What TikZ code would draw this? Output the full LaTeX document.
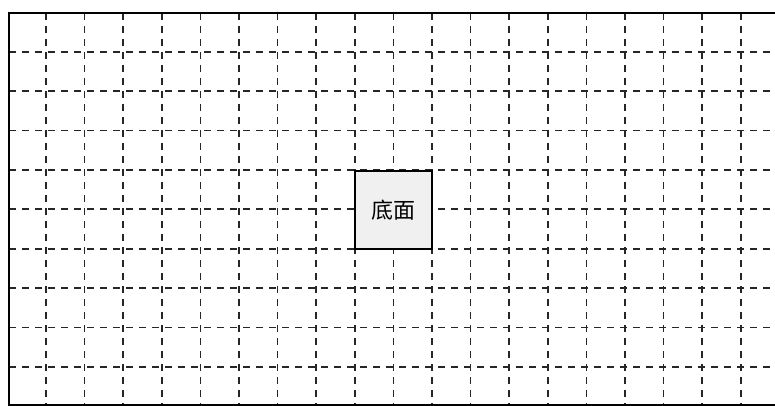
\documentclass[tikz,border=0pt]{standalone}
\usepackage{fontspec}
\newfontfamily\cjk{Noto Sans CJK SC}
\begin{document}
\begin{tikzpicture}[x=1pt,y=-1pt,
  gridline/.style={draw=black!85, line width=1.7pt, dash pattern=on 7pt off 6pt},
  frame/.style={draw=black, line width=2.2pt},
  basebox/.style={draw=black, line width=1.8pt, fill=black!6, minimum width=77pt, minimum height=78pt, inner sep=0pt, font=\cjk\fontsize{22}{22}\selectfont}]
\useasboundingbox (0,0) rectangle (775,406);
\foreach \k in {0,...,18} \draw[gridline] ({46+38.6*\k},13) -- ({46+38.6*\k},405);
\foreach \k in {0,...,8} \draw[gridline] (9,{51.7+39.4*\k}) -- (775,{51.7+39.4*\k});
\draw[frame] (775,13) -- (9,13) -- (9,405) -- (775,405);
\node[basebox] (base) at (393.5,210) {底面};
\end{tikzpicture}
\end{document}
